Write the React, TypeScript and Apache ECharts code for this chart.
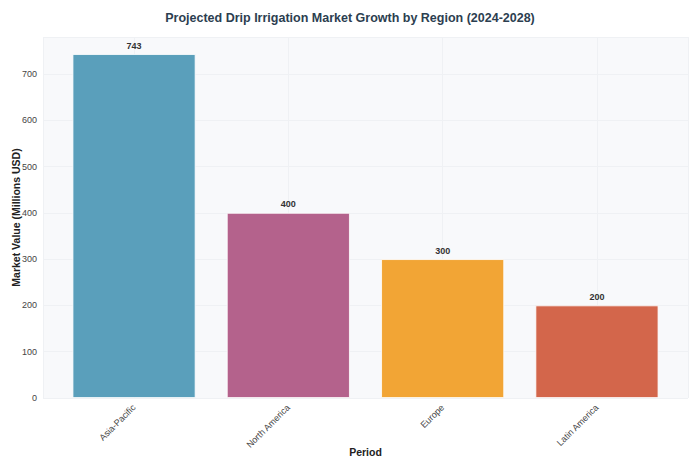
import React, { useEffect, useRef } from "react";
import * as echarts from "echarts";

const categories = ["Asia-Pacific", "North America", "Europe", "Latin America"];
const values = [743, 400, 300, 200];
const colors = ["#5A9FBB", "#B4628C", "#F2A535", "#D3664B"];
const yTicks = [0, 100, 200, 300, 400, 500, 600, 700];

export default function App() {
  const ref = useRef<HTMLDivElement>(null);
  useEffect(() => {
    if (!ref.current) return;
    const chart = echarts.init(ref.current, null, { renderer: "svg" });
    const font = "'Liberation Sans', Arial, sans-serif";
    chart.setOption({
      animation: false,
      backgroundColor: "#FFFFFF",
      textStyle: { fontFamily: font },
      title: {
        text: "Projected Drip Irrigation Market Growth by Region (2024-2028)",
        left: "center",
        top: 6,
        textStyle: { fontSize: 12.5, fontWeight: "bold", color: "#2C3E50", fontFamily: font },
      },
      grid: {
        left: 43,
        right: 12,
        top: 37,
        bottom: 70,
        outerBoundsMode: "none",
        containLabel: false,
        show: true,
        backgroundColor: "#F8F9FB",
        borderWidth: 0,
      },
      xAxis: {
        type: "value",
        min: -0.59,
        max: 3.59,
        splitNumber: 4,
        name: "Period",
        nameLocation: "middle",
        nameGap: 48,
        nameMoveOverlap: false,
        nameTextStyle: { fontSize: 10.5, fontWeight: "bold", color: "#222" },
        axisLine: { show: false },
        axisTick: { show: false },
        splitLine: { show: true, lineStyle: { color: "#EFF1F4", width: 1 } },
        axisLabel: {
          rotate: 45,
          fontSize: 9,
          color: "#444",
          margin: 8,
          showMinLabel: false,
          showMaxLabel: false,
          formatter: (v: number) =>
            Number.isInteger(v) && v >= 0 && v < categories.length ? categories[v] : "",
        },
      },
      yAxis: {
        type: "value",
        min: 0,
        max: 780,
        interval: 100,
        name: "Market Value (Millions USD)",
        nameLocation: "middle",
        nameGap: 22,
        nameMoveOverlap: false,
        nameTextStyle: { fontSize: 10.5, fontWeight: "bold", color: "#222" },
        axisLine: { show: false },
        axisTick: { show: false },
        splitLine: { show: true, lineStyle: { color: "#EFF1F4", width: 1 } },
        axisLabel: {
          fontSize: 9,
          color: "#444",
          margin: 6,
          showMaxLabel: false,
          formatter: (v: number) => (yTicks.includes(v) ? String(v) : ""),
        },
      },
      series: [
        {
          type: "bar",
          barWidth: 123,
          data: values.map((v, i) => ({
            value: [i, v],
            itemStyle: { color: colors[i], borderColor: "#FFFFFF", borderWidth: 0.8 },
          })),
          label: {
            show: true,
            position: "top",
            distance: 4,
            fontSize: 9,
            fontWeight: "bold",
            color: "#333",
            formatter: (p: any) => String(p.value[1]),
          },
        },
      ],
    });
    return () => chart.dispose();
  }, []);
  return (
    <div
      ref={ref}
      style={{ position: "fixed", left: 0, top: 0, width: 700, height: 468 }}
    />
  );
}
